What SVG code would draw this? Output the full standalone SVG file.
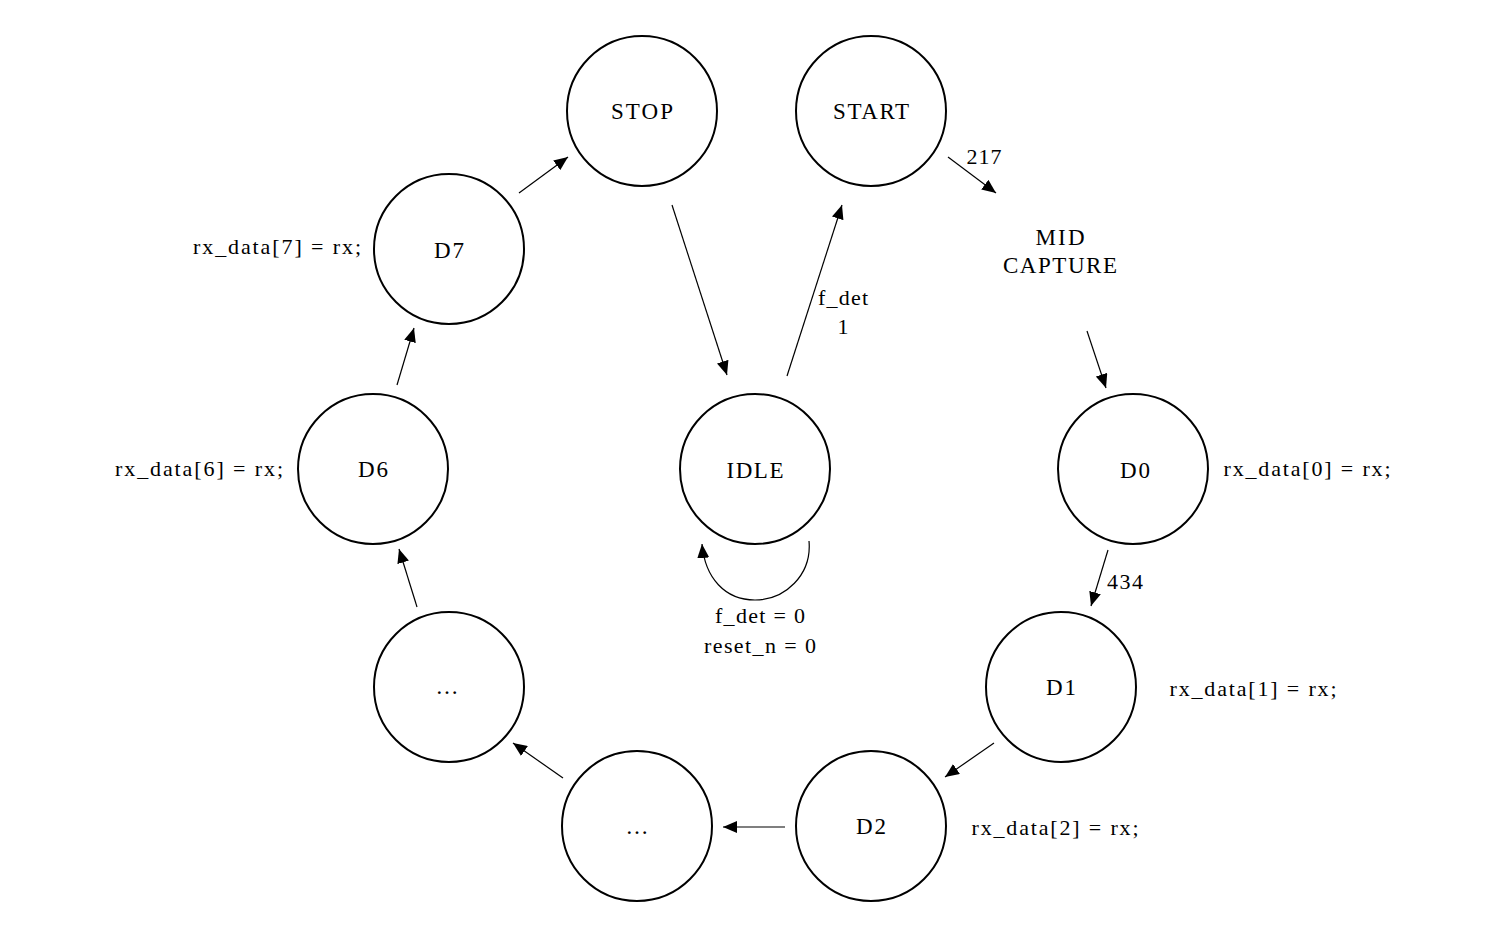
<svg xmlns="http://www.w3.org/2000/svg" width="1502" height="938" viewBox="0 0 1502 938">
<defs>
<marker id="ah" markerUnits="userSpaceOnUse" markerWidth="14" markerHeight="12" viewBox="0 0 14 12" refX="14" refY="6" orient="auto">
<path d="M0,0 L14,6 L0,12 z" fill="#000"/>
</marker>
<style>
.st{fill:#fff;stroke:#000;stroke-width:2}
.t{font-family:"Liberation Serif","DejaVu Serif",serif;font-size:23px;fill:#000;text-anchor:middle;dominant-baseline:central}
.l{font-family:"Liberation Serif","DejaVu Serif",serif;font-size:22px;fill:#000;text-anchor:middle;dominant-baseline:central}
.e{fill:none;stroke:#000;stroke-width:1.2;marker-end:url(#ah)}
</style>
</defs>
<rect width="1502" height="938" fill="#fff"/>
<g id="edges">
<line class="e" x1="519" y1="193" x2="568" y2="157"/>
<line class="e" x1="672" y1="205" x2="727" y2="375"/>
<line class="e" x1="787" y1="376" x2="842" y2="205"/>
<line class="e" x1="948" y1="157" x2="996" y2="193"/>
<line class="e" x1="1087" y1="331" x2="1106" y2="388"/>
<line class="e" x1="1108" y1="550" x2="1091" y2="606"/>
<line class="e" x1="994" y1="743" x2="945" y2="777"/>
<line class="e" x1="785" y1="827" x2="723" y2="827"/>
<line class="e" x1="563" y1="778" x2="513" y2="743"/>
<line class="e" x1="417" y1="607" x2="399" y2="549"/>
<line class="e" x1="397" y1="385" x2="414" y2="328"/>
<path class="e" d="M809,541 C812,575 785,600 755,600 C725,600 705,578 702,544"/>
<text class="l" x="984" y="156" textLength="35">217</text>
<text class="l" x="843" y="297" textLength="50">f_det</text>
<text class="l" x="843" y="326">1</text>
<text class="l" x="1125" y="581" textLength="36">434</text>
<text class="l" x="760" y="615" textLength="90">f_det = 0</text>
<text class="l" x="760" y="645" textLength="112">reset_n = 0</text>
</g>
<g id="STOP"><circle class="st" cx="642" cy="111" r="75"/><text class="t" x="642" y="111" textLength="62">STOP</text></g>
<g id="START"><circle class="st" cx="871" cy="111" r="75"/><text class="t" x="871" y="111" textLength="76">START</text></g>
<g id="MID_CAPTURE"><text class="t" x="1060" y="237" textLength="49">MID</text><text class="t" x="1060" y="265" textLength="114">CAPTURE</text></g>
<g id="D7"><circle class="st" cx="449" cy="249" r="75"/><text class="t" x="449" y="250" textLength="30">D7</text><text class="l" x="277" y="246" textLength="168">rx_data[7] = rx;</text></g>
<g id="D6"><circle class="st" cx="373" cy="469" r="75"/><text class="t" x="373" y="469" textLength="30">D6</text><text class="l" x="199" y="468" textLength="168">rx_data[6] = rx;</text></g>
<g id="IDLE"><circle class="st" cx="755" cy="469" r="75"/><text class="t" x="755" y="470" textLength="57">IDLE</text></g>
<g id="D0"><circle class="st" cx="1133" cy="469" r="75"/><text class="t" x="1135" y="470" textLength="30">D0</text><text class="l" x="1307" y="468" textLength="167">rx_data[0] = rx;</text></g>
<g id="D1"><circle class="st" cx="1061" cy="687" r="75"/><text class="t" x="1061" y="687" textLength="30">D1</text><text class="l" x="1253" y="688" textLength="167">rx_data[1] = rx;</text></g>
<g id="D2"><circle class="st" cx="871" cy="826" r="75"/><text class="t" x="871" y="826" textLength="30">D2</text><text class="l" x="1055" y="827" textLength="167">rx_data[2] = rx;</text></g>
<g id="ELLIPSIS_1"><circle class="st" cx="637" cy="826" r="75"/><text class="t" x="637" y="826">…</text></g>
<g id="ELLIPSIS_2"><circle class="st" cx="449" cy="687" r="75"/><text class="t" x="447" y="686">…</text></g>
</svg>
